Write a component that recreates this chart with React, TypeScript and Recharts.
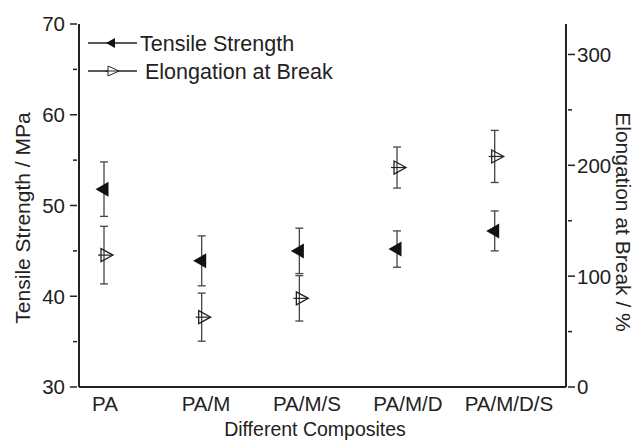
import React from 'react';
import { ScatterChart, Scatter, XAxis, YAxis, ErrorBar, Legend, Customized } from 'recharts';

const categories = ['PA', 'PA/M', 'PA/M/S', 'PA/M/D', 'PA/M/D/S'];
const tensile = [51.8, 43.9, 45.0, 45.2, 47.2];
const tensileErr = [3.0, 2.75, 2.5, 2.0, 2.2];
const elongation = [119, 63, 80, 198, 208];
const elongationErr = [26, 21.7, 20.5, 18.5, 23.5];
const leftTicks = [30, 35, 40, 45, 50, 55, 60, 65, 70];
const leftMajor = [30, 40, 50, 60, 70];
const rightTicks = [0, 50, 100, 150, 200, 250, 300];
const rightMajor = [0, 100, 200, 300];
const xTicks = [1, 2, 3, 4, 5];

const tensileData = categories.map((c, i) => ({ x: i + 1, y: tensile[i], err: tensileErr[i], name: c }));
const elongData = categories.map((c, i) => ({ x: i + 1, y: elongation[i], err: elongationErr[i], name: c }));

const FONT = '"Liberation Sans", Arial, sans-serif';
const INK = '#222';

const TensileShape = (p: any) => {
  const { cx, cy } = p;
  if (cx == null || cy == null) return null;
  return <path d={`M${cx - 8.5},${cy} L${cx + 4.5},${cy - 7.5} L${cx + 4.5},${cy + 7.5} Z`} fill="#111" />;
};

const ElongShape = (p: any) => {
  const { cx, cy } = p;
  if (cx == null || cy == null) return null;
  return (
    <g>
      <line x1={cx - 6} y1={cy} x2={cx + 8} y2={cy} stroke={INK} strokeWidth={1.2} />
      <path d={`M${cx - 3},${cy - 6.5} L${cx + 9},${cy} L${cx - 3},${cy + 6.5} Z`} fill="none" stroke={INK} strokeWidth={1.3} />
    </g>
  );
};

const LeftTick = (p: any) => {
  const { x, y, payload } = p;
  const major = leftMajor.includes(payload.value);
  return (
    <g>
      <line x1={x + (major ? 0 : 3)} y1={y} x2={x + 7} y2={y} stroke={INK} strokeWidth={1.5} />
      {major && (
        <text x={x - 5} y={y} dy="0.36em" textAnchor="end" fontSize={20.5} fontFamily={FONT} fill={INK}>
          {payload.value}
        </text>
      )}
    </g>
  );
};

const RightTick = (p: any) => {
  const { x, y, payload } = p;
  const major = rightMajor.includes(payload.value);
  return (
    <g>
      <line x1={x - 7} y1={y} x2={x - 7 + (major ? 7 : 4)} y2={y} stroke={INK} strokeWidth={1.5} />
      {major && (
        <text x={x + 2} y={y} dy="0.36em" textAnchor="start" fontSize={20.5} fontFamily={FONT} fill={INK}>
          {payload.value}
        </text>
      )}
    </g>
  );
};

const XTick = (p: any) => {
  const { x, y, payload } = p;
  const i = payload.value - 1;
  return (
    <text x={x + 1 + 3.3 * i} y={y} dy={16} textAnchor="middle" fontSize={20.5} fontFamily={FONT} fill={INK}>
      {categories[i]}
    </text>
  );
};

const LegendContent = () => (
  <svg width={260} height={60} style={{ display: 'block' }}>
    <g>
      <line x1={3} y1={13} x2={52} y2={13} stroke={INK} strokeWidth={1.6} />
      <path d={`M${21},${13} L${30},${8} L${30},${18} Z`} fill="#111" />
      <text x={55} y={13} dy="0.36em" fontSize={21.5} fontFamily={FONT} fill={INK}>Tensile Strength</text>
    </g>
    <g>
      <line x1={3} y1={41} x2={52} y2={41} stroke={INK} strokeWidth={1.6} />
      <path d={`M${23},${36} L${34},${41} L${23},${46} Z`} fill="#fff" stroke={INK} strokeWidth={1} />
      <line x1={20} y1={41} x2={34} y2={41} stroke={INK} strokeWidth={1} />
      <text x={60} y={41} dy="0.36em" fontSize={21.5} fontFamily={FONT} fill={INK}>Elongation at Break</text>
    </g>
  </svg>
);

const Titles = () => (
  <g>
    <text x={22} y={218} transform="rotate(-90 22 218)" textAnchor="middle" dy="0.36em" fontSize={21} fontFamily={FONT} fill={INK}>
      Tensile Strength / MPa
    </text>
    <text x={624} y={222} transform="rotate(90 624 222)" textAnchor="middle" dy="0.36em" fontSize={21} fontFamily={FONT} fill={INK}>
      Elongation at Break / %
    </text>
    <text x={315} y={436} textAnchor="middle" fontSize={19.5} fontFamily={FONT} fill={INK}>
      Different Composites
    </text>
  </g>
);

export default function App() {
  return (
    <div style={{ position: 'absolute', left: 0, top: 0, background: '#fff' }}>
      <ScatterChart width={639} height={442} margin={{ top: 24, right: 0, bottom: 0, left: 0 }}>
        <XAxis
          xAxisId="b"
          type="number"
          dataKey="x"
          domain={[0.744, 5.73]}
          ticks={xTicks}
          allowDataOverflow
          tickLine={false}
          axisLine={{ stroke: INK, strokeWidth: 2 }}
          tick={<XTick />}
          height={55}
          interval={0}
        />
        <XAxis
          xAxisId="t"
          orientation="top"
          type="number"
          dataKey="x"
          domain={[0.744, 5.73]}
          allowDataOverflow
          tick={false}
          tickLine={false}
          axisLine={{ stroke: INK, strokeWidth: 2 }}
          height={0}
        />
        <YAxis
          yAxisId="l"
          type="number"
          dataKey="y"
          domain={[30, 70]}
          ticks={leftTicks}
          allowDataOverflow
          interval={0}
          tickLine={false}
          tickSize={7}
          axisLine={{ stroke: INK, strokeWidth: 2 }}
          tick={<LeftTick />}
          width={79}
        />
        <YAxis
          yAxisId="r"
          orientation="right"
          type="number"
          dataKey="y"
          domain={[0, 327.5]}
          ticks={rightTicks}
          allowDataOverflow
          interval={0}
          tickLine={false}
          tickSize={7}
          axisLine={{ stroke: INK, strokeWidth: 2 }}
          tick={<RightTick />}
          width={73}
        />
        <Legend
          layout="vertical"
          align="center"
          verticalAlign="middle"
          content={<LegendContent />}
          wrapperStyle={{ position: 'absolute', left: 85, top: 30, width: 260, height: 60 }}
        />
        <Scatter
          name="Tensile Strength"
          data={tensileData}
          xAxisId="b"
          yAxisId="l"
          shape={<TensileShape />}
          isAnimationActive={false}
        >
          <ErrorBar dataKey="err" direction="y" width={4} stroke="#444" strokeWidth={1.3} isAnimationActive={false} />
        </Scatter>
        <Scatter
          name="Elongation at Break"
          data={elongData}
          xAxisId="b"
          yAxisId="r"
          shape={<ElongShape />}
          isAnimationActive={false}
        >
          <ErrorBar dataKey="err" direction="y" width={4} stroke="#444" strokeWidth={1.3} isAnimationActive={false} />
        </Scatter>
        <Customized component={<Titles />} />
      </ScatterChart>
    </div>
  );
}
